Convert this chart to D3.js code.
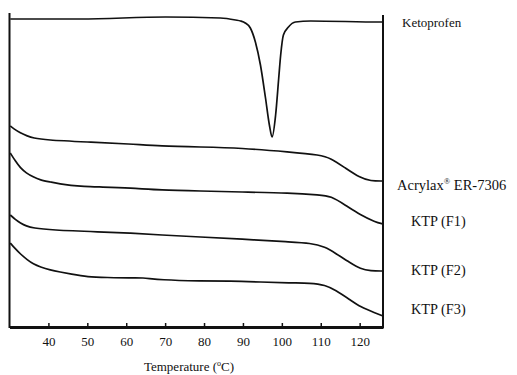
<!DOCTYPE html>
<html lang="en">
<head>
<meta charset="UTF-8">
<title>DSC thermograms</title>
<style>
  body { margin: 0; background: #fff; }
  text { font-family: "Liberation Serif", "Times New Roman", serif; fill: #111; }
</style>
</head>
<body>
<div id="viz-wrapper"></div>
<script src="https://cdn.jsdelivr.net/npm/d3@7/dist/d3.min.js"></script>
<script>
// temperature ticks on the x axis
var tickValues = [40, 50, 60, 70, 80, 90, 100, 110, 120];

// heat flow, arbitrary units (bigger = higher on the plot)
var ketoTemp = [30.2, 48.2, 70.1, 84.2, 88.1, 89.4, 90.6, 91.9, 93.2, 94.5, 95.8, 96.8, 97.5, 98.4, 99.2, 99.7, 100.4, 101.7, 103.5, 107.4, 125.3, 126];
var ketoVal  = [308, 308, 310, 309, 307, 306, 304, 299, 285, 262, 229, 202, 190, 212, 249, 272, 292, 300, 305, 306, 305, 305];

var acryTemp = [30.2, 31, 32.8, 34.6, 36.1, 39.2, 50, 61.1, 68.8, 79.1, 89.4, 102.2, 109.9, 112.5, 116.3, 120.2, 122.8, 126];
var acryVal  = [201, 198.5, 194, 191, 189, 187, 185, 183, 181, 180, 179, 175, 172, 169, 159, 149, 146, 146];

var f1Temp = [30.2, 31.5, 32.8, 34.3, 36.1, 37.9, 40.5, 43, 45.7, 49, 53.5, 61.1, 68.8, 79.1, 89.4, 102.2, 109.9, 112.5, 116.3, 120.2, 124, 126];
var f1Val  = [174, 166, 159, 154, 150, 147, 145, 143, 141.5, 140.5, 140, 139, 137, 136, 135, 134, 132, 131, 122, 112, 105, 103];

var f2Temp = [30.2, 31.5, 32.8, 34.3, 36.1, 40.5, 53.5, 61.1, 68.8, 79.1, 89.4, 102.2, 107.3, 111.2, 113.7, 117.6, 120.2, 122.8, 126];
var f2Val  = [112, 107.5, 104, 101, 99, 97, 95, 94, 92, 90, 88, 85, 84, 80, 74, 64, 58, 56, 56];

var f3Temp = [30.2, 31.3, 32.8, 34.6, 36.1, 37.9, 40.5, 43, 45.7, 50.1, 55, 61.1, 64, 68.8, 79.1, 86.8, 94.6, 102.2, 107.3, 111.2, 113.7, 117.6, 120.2, 124, 126];
var f3Val  = [84, 79, 73, 67, 63, 60, 57, 55, 53, 50, 49.5, 49, 49.5, 47, 46, 46, 45, 44, 44, 42, 37, 27, 20, 14, 11];

var width = 517, height = 375;

var svg = d3.select("#viz-wrapper")
  .append("svg")
  .attr("width", width)
  .attr("height", height);

var x = d3.scaleLinear().domain([30, 126]).range([9.5, 383]);
var y = d3.scaleLinear().domain([0, 314]).range([327, 13]);

// series, with label text and where the label sits
var series = [
  { t: ketoTemp, v: ketoVal, name: "Ketoprofen", lx: 402, ly: 27, fs: 13, sharp: true },
  { t: acryTemp, v: acryVal, name: "Acrylax", sup: "®", rest: " ER-7306", lx: 397, ly: 190, fs: 14.5 },
  { t: f1Temp, v: f1Val, name: "KTP (F1)", lx: 411, ly: 226, fs: 14.3 },
  { t: f2Temp, v: f2Val, name: "KTP (F2)", lx: 411, ly: 275, fs: 14.3 },
  { t: f3Temp, v: f3Val, name: "KTP (F3)", lx: 411, ly: 314, fs: 14.3 }
];

// melting peak keeps its tip, the polymer traces get smoothed
var lineSharp = d3.line()
  .x(function(d) { return x(d[0]); })
  .y(function(d) { return y(d[1]); })
  .curve(d3.curveMonotoneX);
var lineSmooth = d3.line()
  .x(function(d) { return x(d[0]); })
  .y(function(d) { return y(d[1]); })
  .curve(d3.curveBasis);

svg.selectAll("path.curve")
  .data(series)
  .enter()
  .append("path")
  .attr("class", "curve")
  .attr("d", function(s) {
    var pts = d3.zip(s.t, s.v);
    return s.sharp ? lineSharp(pts) : lineSmooth(pts);
  })
  .attr("fill", "none")
  .attr("stroke", "#111")
  .attr("stroke-width", 1.7);

// frame: left and right verticals
svg.append("line")
  .attr("x1", 9.5).attr("x2", 9.5).attr("y1", 13).attr("y2", 328)
  .attr("stroke", "#111").attr("stroke-width", 2);
svg.append("line")
  .attr("x1", 383).attr("x2", 383).attr("y1", 15).attr("y2", 328)
  .attr("stroke", "#111").attr("stroke-width", 2);

// bottom axis, ticks pointing up
var xAxis = d3.axisBottom(x)
  .tickValues(tickValues)
  .tickSizeInner(-4)
  .tickSizeOuter(0)
  .tickPadding(10);

var gx = svg.append("g")
  .attr("transform", "translate(0,327)")
  .call(xAxis);
gx.select(".domain").attr("stroke", "#111").attr("stroke-width", 3);
gx.selectAll(".tick line").attr("stroke", "#111").attr("stroke-width", 1.5);
gx.selectAll(".tick text")
  .attr("font-family", "Liberation Serif, serif")
  .attr("font-size", 13)
  .attr("fill", "#111");

// axis title
var title = svg.append("text")
  .attr("x", 189)
  .attr("y", 371)
  .attr("text-anchor", "middle")
  .attr("font-size", 13)
  .text("Temperature (");
title.append("tspan").attr("dy", -5).attr("font-size", 8).text("o");
title.append("tspan").attr("dy", 5).text("C)");

// series labels
series.forEach(function(s) {
  var t = svg.append("text")
    .attr("x", s.lx)
    .attr("y", s.ly)
    .attr("font-size", s.fs)
    .text(s.name);
  if (s.sup) {
    t.append("tspan").attr("dy", -6).attr("font-size", 8.5).text(s.sup);
    t.append("tspan").attr("dy", 6).text(s.rest);
  }
});
</script>
</body>
</html>
